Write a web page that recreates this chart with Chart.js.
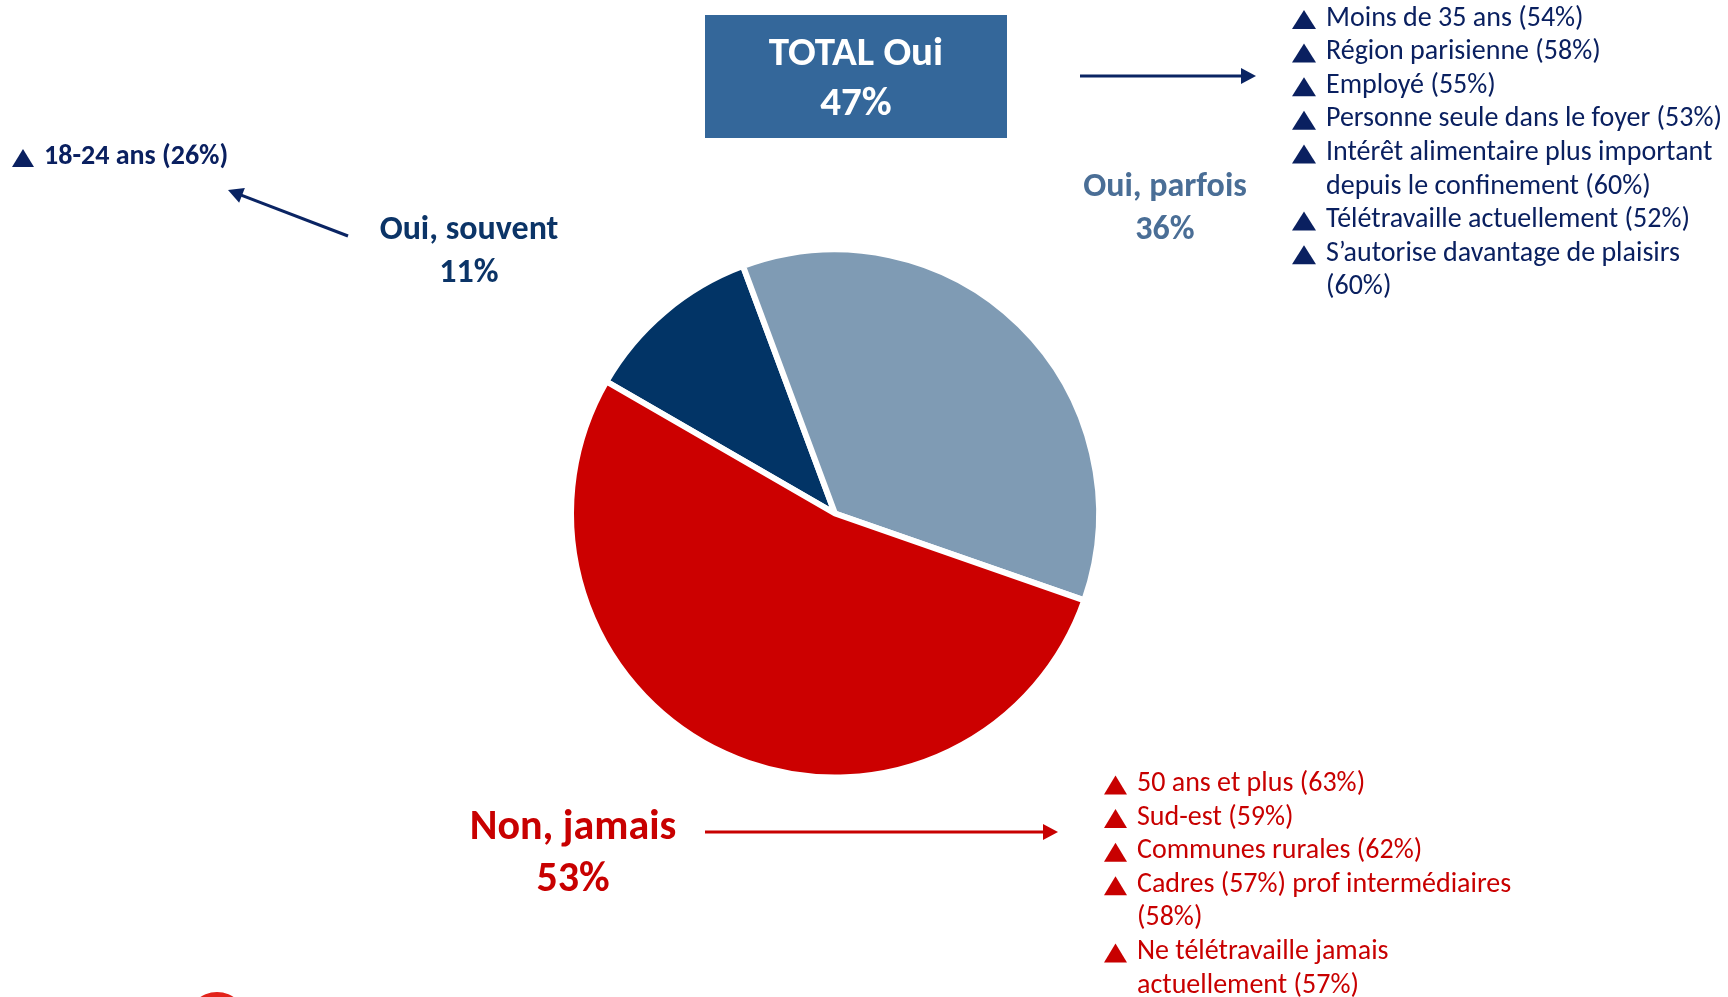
<!DOCTYPE html>
<html lang="fr">
<head>
<meta charset="utf-8">
<title>TOTAL Oui 47%</title>
<script src="https://cdn.jsdelivr.net/npm/chart.js@4/dist/chart.umd.min.js"></script>
<style>
  html, body { margin: 0; padding: 0; background: #ffffff; overflow: hidden; }
  #wrap { position: relative; width: 1728px; height: 997px; }
  canvas { display: block; }
</style>
</head>
<body>
<div id="wrap"><canvas id="chart" width="1728" height="997"></canvas></div>
<script>
// ---- Data ----
const categories = ['Oui, souvent', 'Oui, parfois', 'Non, jamais'];
const values = [11, 36, 53];
const totalOuiLabel = 'TOTAL Oui';
const totalOuiValue = 47;
const souventNotes = [['18-24 ans (26%)']];
const parfoisNotes = [
  ['Moins de 35 ans (54%)'],
  ['Région parisienne (58%)'],
  ['Employé (55%)'],
  ['Personne seule dans le foyer (53%)'],
  ['Intérêt alimentaire plus important', 'depuis le confinement (60%)'],
  ['Télétravaille actuellement (52%)'],
  ['S’autorise davantage de plaisirs', '(60%)']
];
const jamaisNotes = [
  ['50 ans et plus (63%)'],
  ['Sud-est (59%)'],
  ['Communes rurales (62%)'],
  ['Cadres (57%) prof intermédiaires', '(58%)'],
  ['Ne télétravaille jamais', 'actuellement (57%)']
];

// ---- Styles ----
const sliceColors = ['#023466', '#7F9BB4', '#CC0000'];
const FONT = 'Calibri, Carlito, Lato, "Open Sans", sans-serif';
const NAVY = '#0A2060';
const RED = '#C80000';

function drawTri(ctx, x, yc, w, h, color) {
  ctx.fillStyle = color;
  ctx.beginPath();
  ctx.moveTo(x, yc + h / 2);
  ctx.lineTo(x + w / 2, yc - h / 2);
  ctx.lineTo(x + w, yc + h / 2);
  ctx.closePath();
  ctx.fill();
}
function drawArrow(ctx, x1, y1, x2, y2, color) {
  const ang = Math.atan2(y2 - y1, x2 - x1);
  const hl = 15, hw = 8;
  ctx.strokeStyle = color; ctx.fillStyle = color; ctx.lineWidth = 3;
  ctx.beginPath();
  ctx.moveTo(x1, y1);
  ctx.lineTo(x2 - Math.cos(ang) * hl * 0.8, y2 - Math.sin(ang) * hl * 0.8);
  ctx.stroke();
  ctx.beginPath();
  ctx.moveTo(x2, y2);
  ctx.lineTo(x2 - Math.cos(ang) * hl - Math.sin(ang) * hw, y2 - Math.sin(ang) * hl + Math.cos(ang) * hw);
  ctx.lineTo(x2 - Math.cos(ang) * hl + Math.sin(ang) * hw, y2 - Math.sin(ang) * hl - Math.cos(ang) * hw);
  ctx.closePath();
  ctx.fill();
}
function drawList(ctx, notes, x, y0, step, size, color, bold, tri) {
  ctx.font = (bold ? 'bold ' : '') + size + 'px ' + FONT;
  ctx.textAlign = 'left';
  ctx.textBaseline = 'middle';
  let line = 0;
  notes.forEach(item => {
    const yc = y0 + line * step;
    drawTri(ctx, x + tri.dx, yc + 1, tri.w, tri.h, color);
    ctx.fillStyle = color;
    item.forEach((t, k) => {
      ctx.fillText(t, x + tri.tx, y0 + (line + k) * step);
    });
    line += item.length;
  });
}

const annotations = {
  id: 'annotations',
  afterDraw(chart) {
    const ctx = chart.ctx;
    ctx.save();
    // TOTAL box
    ctx.fillStyle = '#34679A';
    ctx.fillRect(705, 15, 302, 123);
    ctx.fillStyle = '#FFFFFF';
    ctx.textAlign = 'center';
    ctx.textBaseline = 'middle';
    ctx.font = 'bold 41px ' + FONT;
    ctx.fillText(totalOuiLabel, 856, 55);
    ctx.fillText(totalOuiValue + '%', 856, 105);

    // Slice labels
    ctx.font = 'bold 34px ' + FONT;
    ctx.fillStyle = '#0B3467';
    ctx.fillText(categories[0], 469, 230);
    ctx.fillText(values[0] + '%', 469, 273);
    ctx.fillStyle = '#4A6E96';
    ctx.fillText(categories[1], 1165, 187);
    ctx.fillText(values[1] + '%', 1165, 230);
    ctx.font = 'bold 42px ' + FONT;
    ctx.fillStyle = RED;
    ctx.fillText(categories[2], 573, 828);
    ctx.fillText(values[2] + '%', 573, 880);

    // Arrows
    drawArrow(ctx, 1080, 76, 1256, 76, '#0A2463');
    drawArrow(ctx, 348, 236, 228, 190, '#0A2463');
    drawArrow(ctx, 705, 832, 1058, 832, RED);

    // Lists
    drawList(ctx, parfoisNotes, 1292, 18.5, 33.6, 28, NAVY, false, {dx: 0, w: 24, h: 19, tx: 34});
    drawList(ctx, souventNotes, 12, 157, 33.6, 28, NAVY, true, {dx: 0, w: 22, h: 18, tx: 32});
    drawList(ctx, jamaisNotes, 1104, 784, 33.6, 28, RED, false, {dx: 0, w: 23, h: 19, tx: 33});

    // partial logo at bottom-left
    ctx.fillStyle = '#E3231B';
    ctx.beginPath();
    ctx.arc(217, 1022, 30, 0, Math.PI * 2);
    ctx.fill();
    ctx.restore();
  }
};

new Chart(document.getElementById('chart'), {
  type: 'pie',
  data: {
    labels: categories,
    datasets: [{
      data: values,
      backgroundColor: sliceColors,
      borderColor: '#FFFFFF',
      borderWidth: 6,
      rotation: -60,
      radius: 264
    }]
  },
  options: {
    responsive: false,
    maintainAspectRatio: false,
    animation: false,
    rotation: -60,
    layout: { padding: { top: 30, right: 58, bottom: 0, left: 0 } },
    plugins: { legend: { display: false }, tooltip: { enabled: false } }
  },
  plugins: [annotations]
});
</script>
</body>
</html>
